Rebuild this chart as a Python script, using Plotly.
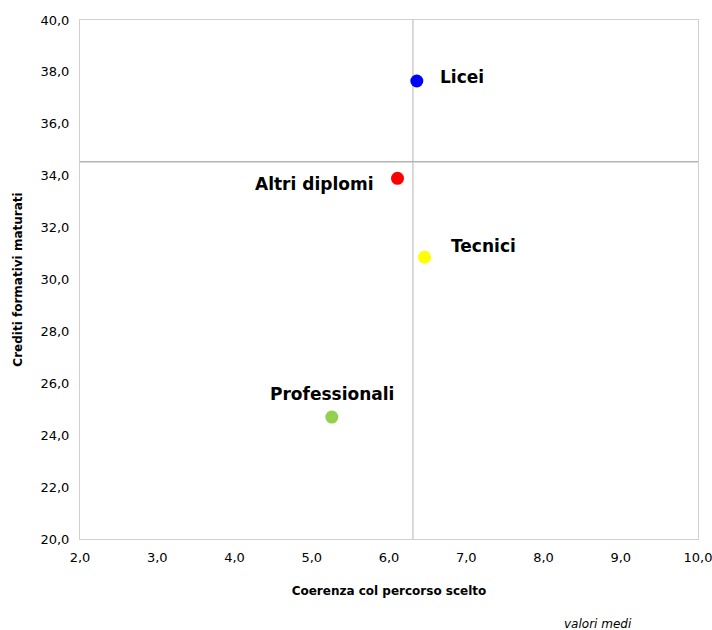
import plotly.graph_objects as go

categories = ["Licei", "Altri diplomi", "Tecnici", "Professionali"]
coerenza = [6.36, 6.11, 6.46, 5.26]
crediti = [37.65, 33.90, 30.86, 24.70]
colors = ["#0000ff", "#ff0000", "#ffff00", "#92d050"]
mean_x = 6.31
mean_y = 34.54
x_ticks = [2, 3, 4, 5, 6, 7, 8, 9, 10]
x_tick_labels = ["2,0", "3,0", "4,0", "5,0", "6,0", "7,0", "8,0", "9,0", "10,0"]
y_ticks = [20, 22, 24, 26, 28, 30, 32, 34, 36, 38, 40]
y_tick_labels = ["20,0", "22,0", "24,0", "26,0", "28,0", "30,0", "32,0", "34,0", "36,0", "38,0", "40,0"]

label_style = {
    "Licei": dict(xanchor="left", yanchor="middle", xshift=21, yshift=4),
    "Altri diplomi": dict(xanchor="right", yanchor="middle", xshift=-23, yshift=-6),
    "Tecnici": dict(xanchor="left", yanchor="middle", xshift=24, yshift=11),
    "Professionali": dict(xanchor="center", yanchor="middle", xshift=0, yshift=23),
}

font = "DejaVu Sans"
fig = go.Figure()
fig.add_trace(go.Scatter(
    x=coerenza, y=crediti, mode="markers",
    marker=dict(size=13, color=colors, line=dict(width=0)),
    showlegend=False, hoverinfo="skip",
))

fig.add_shape(type="line", xref="x", yref="paper", x0=mean_x, x1=mean_x, y0=0, y1=1,
              line=dict(color="#b4b4b4", width=1), layer="below")
fig.add_shape(type="line", xref="paper", yref="y", x0=0, x1=1, y0=mean_y, y1=mean_y,
              line=dict(color="#b4b4b4", width=1.6), layer="below")

for c, xv, yv in zip(categories, coerenza, crediti):
    fig.add_annotation(x=xv, y=yv, text="<b>%s</b>" % c, showarrow=False,
                       font=dict(family=font, size=17, color="#000000"),
                       **label_style[c])

fig.add_annotation(xref="paper", yref="paper", x=0.838, y=-0.163, text="<i>valori medi</i>",
                   showarrow=False, xanchor="center", yanchor="middle",
                   font=dict(family=font, size=12, color="#000000"))

fig.update_layout(
    width=712, height=630,
    margin=dict(l=80, r=14, t=20, b=91),
    paper_bgcolor="white", plot_bgcolor="white",
    font=dict(family=font, size=13, color="#000000"),
    xaxis=dict(range=[2, 10], tickvals=x_ticks, ticktext=x_tick_labels,
               showgrid=False, zeroline=False, showline=True, mirror=True,
               linecolor="#d0d0d0", linewidth=1, ticks="", automargin=False,
               ticklabelstandoff=6, ticklabeloverflow="allow",
               title=dict(text="<b>Coerenza col percorso scelto</b>", font=dict(size=12), standoff=23)),
    yaxis=dict(range=[20, 40], tickvals=y_ticks, ticktext=y_tick_labels,
               showgrid=False, zeroline=False, showline=True, mirror=True,
               linecolor="#d0d0d0", linewidth=1, ticks="", automargin=False,
               ticklabelstandoff=7, ticklabeloverflow="allow",
               title=dict(text="<b>Crediti formativi maturati</b>", font=dict(size=12), standoff=15)),
)

fig.write_html("out.html", config={"displayModeBar": False},
               post_script="document.body.style.margin='0';")
